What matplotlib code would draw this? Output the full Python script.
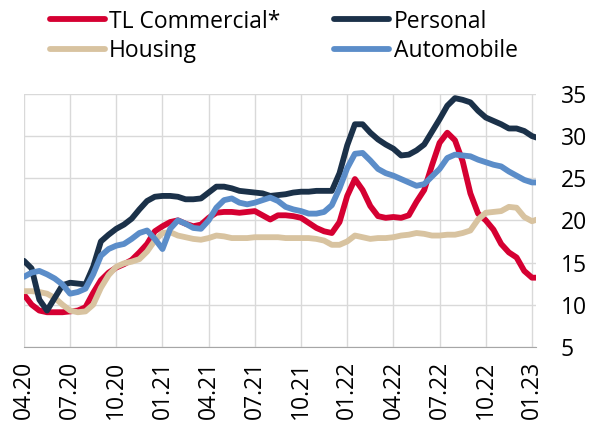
import numpy as np
import matplotlib.pyplot as plt

plt.rcParams['font.family'] = ['Open Sans', 'DejaVu Sans']

# half-month steps starting 04.20
tick_labels = ['04.20', '07.20', '10.20', '01.21', '04.21', '07.21',
               '10.21', '01.22', '04.22', '07.22', '10.22', '01.23']

commercial = [11.2, 10.0, 9.3, 9.1, 9.1, 9.1, 9.2, 9.3, 9.7, 11.4,
              12.9, 13.8, 14.4, 14.8, 15.3, 16.2, 17.2, 18.7, 19.3, 19.8,
              20.0, 19.6, 19.3, 19.5, 20.3, 20.9, 21.0, 21.0, 20.9, 21.0,
              21.1, 20.6, 20.1, 20.6, 20.6, 20.5, 20.3, 19.7, 19.1, 18.7,
              18.5, 19.8, 22.9, 24.9, 23.6, 21.7, 20.5, 20.3, 20.4, 20.3,
              20.6, 22.2, 23.6, 26.5, 29.2, 30.4, 29.5, 27.0, 23.2, 20.8,
              20.0, 18.9, 17.2, 16.2, 15.6, 14.0, 13.2, 13.2]

personal = [15.2, 14.3, 10.6, 9.3, 10.8, 12.3, 12.6, 12.5, 12.4, 14.5,
            17.5, 18.3, 19.0, 19.5, 20.2, 21.3, 22.3, 22.8, 22.9, 22.9,
            22.8, 22.5, 22.5, 22.6, 23.3, 24.0, 24.0, 23.8, 23.5, 23.4,
            23.3, 23.2, 22.9, 23.0, 23.1, 23.3, 23.4, 23.4, 23.5, 23.5,
            23.5, 25.6, 28.9, 31.4, 31.4, 30.4, 29.6, 29.0, 28.5, 27.7,
            27.8, 28.3, 29.0, 30.5, 32.0, 33.6, 34.5, 34.3, 34.0, 33.0,
            32.2, 31.8, 31.4, 30.9, 30.9, 30.6, 30.0, 29.7]

housing = [11.6, 11.6, 11.5, 11.3, 10.8, 10.0, 9.3, 9.1, 9.2, 10.0,
           12.0, 13.5, 14.5, 14.9, 15.1, 15.4, 16.3, 17.6, 18.5, 18.6,
           18.2, 18.0, 17.8, 17.7, 17.9, 18.2, 18.1, 17.9, 17.9, 17.9,
           18.0, 18.0, 18.0, 18.0, 17.9, 17.9, 17.9, 17.9, 17.8, 17.6,
           17.1, 17.1, 17.5, 18.2, 18.0, 17.8, 17.9, 17.9, 18.0, 18.2,
           18.3, 18.5, 18.4, 18.2, 18.2, 18.3, 18.3, 18.5, 18.8, 20.1,
           20.9, 21.0, 21.1, 21.6, 21.5, 20.4, 19.9, 20.2]

automobile = [13.3, 13.8, 14.0, 13.6, 13.1, 12.4, 11.3, 11.5, 11.9, 13.6,
              15.8, 16.6, 17.0, 17.2, 17.8, 18.5, 18.8, 17.8, 16.6, 19.0,
              20.0, 19.6, 19.1, 19.0, 20.0, 21.5, 22.4, 22.6, 22.1, 21.9,
              22.1, 22.4, 22.7, 22.3, 21.6, 21.3, 21.1, 20.8, 20.8, 21.0,
              21.8, 23.8, 26.2, 27.9, 28.0, 27.1, 26.1, 25.6, 25.3, 24.9,
              24.5, 24.1, 24.3, 25.2, 26.1, 27.4, 27.8, 27.7, 27.6, 27.2,
              26.9, 26.6, 26.4, 25.8, 25.3, 24.8, 24.5, 24.5]

x = np.arange(len(commercial))

fig = plt.figure(figsize=(5.98, 4.25), dpi=100)
ax = fig.add_axes([0.04, 0.184, 0.856, 0.595])

lw = 4.2
ax.plot(x, commercial, color='#D50032', lw=lw, label='TL Commercial*', solid_capstyle='round')
ax.plot(x, housing, color='#D8C3A0', lw=lw, label='Housing', solid_capstyle='round')
ax.plot(x, personal, color='#1B3149', lw=lw, label='Personal', solid_capstyle='round')
ax.plot(x, automobile, color='#5B8DC9', lw=lw, label='Automobile', solid_capstyle='round')

ax.set_xlim(0, 66.5)
ax.set_ylim(5, 35)
ax.set_xticks(np.arange(0, 67, 6))
ax.set_xticklabels(tick_labels, rotation=90, fontsize=16.5)
ax.set_yticks(np.arange(5, 36, 5))
ax.yaxis.tick_right()
ax.tick_params(axis='y', length=0, pad=18, labelsize=16.5)
ax.tick_params(axis='x', length=0, pad=10)
ax.grid(True, color='#D9D9D9', lw=1)
ax.set_axisbelow(True)
for s in ['top', 'right', 'left']:
    ax.spines[s].set_visible(False)
ax.spines['bottom'].set_color('#A6A6A6')

fig.legend(loc='upper left', bbox_to_anchor=(0.06, 1.01), ncol=2, frameon=False,
           fontsize=16.5, handlelength=2.4, handletextpad=0.2, columnspacing=2.35,
           labelspacing=0.22, borderpad=0.1)

fig.savefig('out.png', dpi=100)
